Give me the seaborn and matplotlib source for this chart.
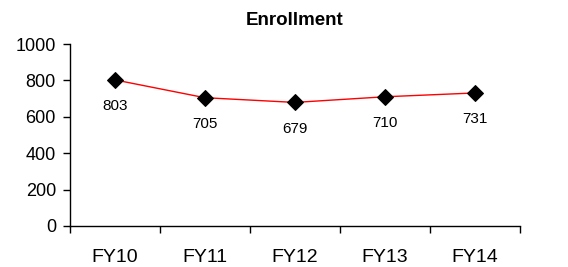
import matplotlib
matplotlib.use("Agg")
import matplotlib.pyplot as plt
import seaborn as sns
import pandas as pd

categories = ["FY10", "FY11", "FY12", "FY13", "FY14"]
values = [803, 705, 679, 710, 731]
title = "Enrollment"

sns.set_theme(style="white", rc={"text.color": "black", "axes.labelcolor": "black",
                                 "xtick.color": "black", "ytick.color": "black"})
plt.rcParams['font.family'] = ['Liberation Sans', 'DejaVu Sans']

df = pd.DataFrame({"cat": categories, "val": values})

fig = plt.figure(figsize=(5.68, 2.67), dpi=100)
ax = fig.add_axes([0.123, 0.154, 0.792, 0.681])

sns.lineplot(data=df, x="cat", y="val", ax=ax, color="red", linewidth=1,
             marker="D", markersize=8, markerfacecolor="black",
             markeredgecolor="black", sort=False)

for i, v in enumerate(values):
    ax.annotate(str(v), (i, v), xytext=(0, -19), textcoords="offset points",
                ha="center", va="center", fontsize=11, color="black")

ax.set_xlim(-0.5, len(categories) - 0.5)
ax.set_ylim(0, 1000)
ax.set_yticks([0, 200, 400, 600, 800, 1000])
ax.set_xticks([x - 0.5 for x in range(len(categories) + 1)], minor=True)
ax.tick_params(axis="x", which="major", length=0, pad=17, labelsize=14, labelcolor="black")
ax.tick_params(axis="x", which="minor", length=5, width=1, color="black", direction="out", bottom=True)
ax.tick_params(axis="y", which="major", length=5, width=1, color="black", direction="out", left=True, pad=5, labelsize=13, labelcolor="black")

for s in ["top", "right"]:
    ax.spines[s].set_visible(False)
for s in ["left", "bottom"]:
    ax.spines[s].set_color("black")
    ax.spines[s].set_linewidth(1)

ax.set_xlabel("")
ax.set_ylabel("")
ax.set_title(title, fontsize=13.5, fontweight="bold", pad=14, color="black")

fig.savefig("out.png", dpi=100)
